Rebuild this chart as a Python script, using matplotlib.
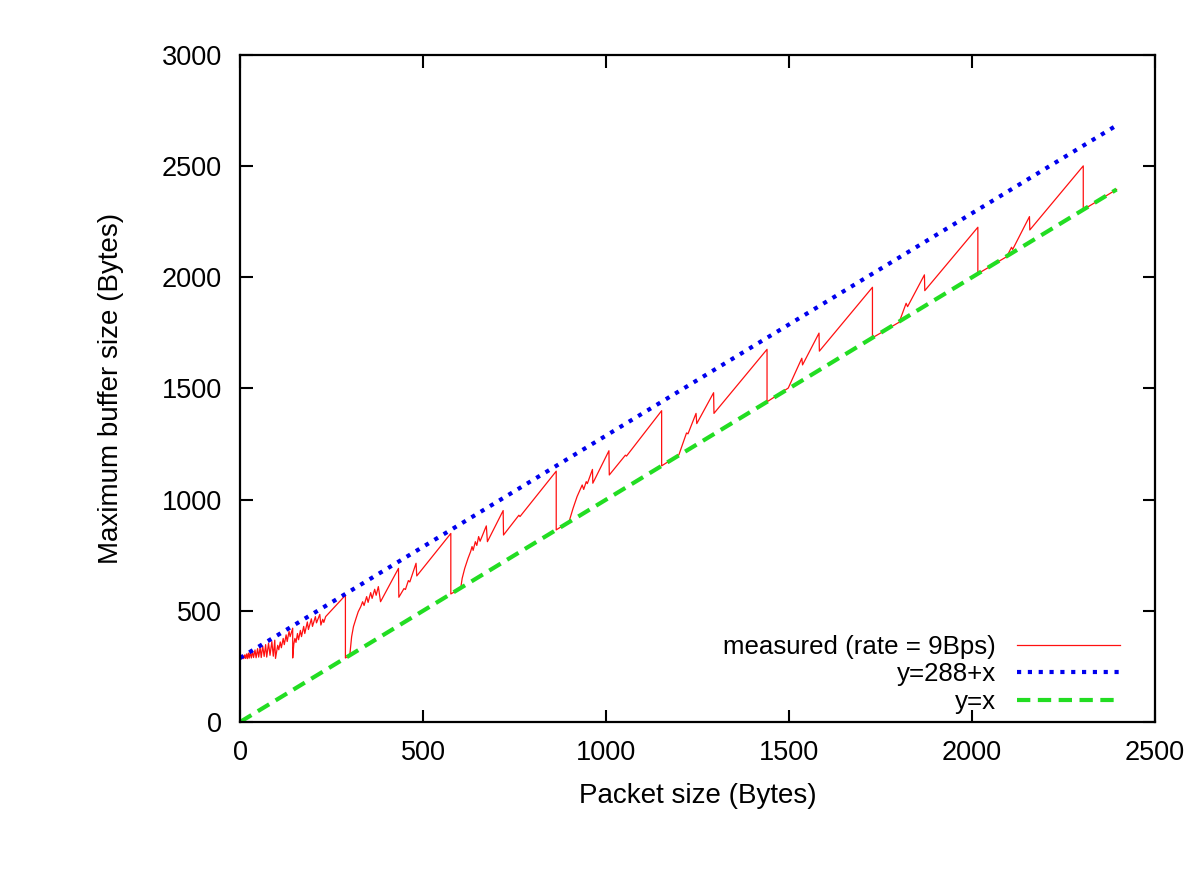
import numpy as np
import matplotlib
matplotlib.use("Agg")
import matplotlib.pyplot as plt

plt.rcParams['font.family'] = ['Liberation Sans', 'DejaVu Sans']

# measured max buffer size vs packet size
meas_x = [0, 3, 5, 8, 10, 13, 15, 18, 20, 23, 25, 28, 31, 34, 37, 41, 44, 48, 51, 55,
          58, 62, 66, 70, 73, 78, 82, 87, 91, 95, 97, 103, 106, 110, 113, 118, 121, 126,
          129, 134, 137, 144, 144, 147, 150, 153, 157, 160, 165, 168, 174, 177, 184, 187,
          195, 198, 206, 209, 218, 221, 226, 229, 234, 288, 288,
          300, 305, 310, 317, 323, 330, 335, 339, 346, 350, 357, 361, 368, 372, 378, 384,
          433, 434, 448, 452, 460, 464, 481, 483, 576, 576,
          603, 607, 614, 623, 630, 634, 637, 643, 647, 652, 656, 673, 676, 719, 720, 762,
          765, 864, 864,
          899, 910, 921, 935, 939, 946, 949, 963, 964, 1008, 1009, 1053, 1056, 1152, 1152,
          1199, 1220, 1224, 1246, 1248, 1294, 1295, 1440, 1440,
          1498, 1512, 1535, 1537, 1582, 1583, 1728, 1728,
          1801, 1820, 1824, 1870, 1871, 2016, 2016,
          2095, 2108, 2111, 2157, 2158, 2304, 2304, 2395]
meas_y = [288, 294, 284, 299, 285, 302, 286, 306, 285, 310, 287, 313, 288, 318, 290, 324,
          289, 330, 292, 336, 290, 342, 295, 348, 292, 355, 300, 362, 296, 368, 286, 345,
          325, 360, 334, 376, 348, 392, 362, 408, 384, 422, 288, 350, 376, 358, 398, 370,
          412, 384, 430, 398, 450, 416, 464, 430, 474, 446, 484, 436, 462, 448, 474, 570,
          288,
          301, 384, 429, 466, 496, 519, 541, 524, 564, 538, 582, 556, 597, 570, 609, 541,
          691, 561, 600, 596, 636, 630, 714, 657, 848, 576,
          601, 646, 691, 736, 766, 789, 772, 811, 794, 834, 813, 882, 811, 951, 841, 930,
          924, 1128, 864,
          901, 961, 1014, 1066, 1046, 1081, 1072, 1136, 1074, 1220, 1111, 1200, 1196, 1400,
          1152,
          1201, 1300, 1296, 1388, 1342, 1481, 1388, 1676, 1440,
          1502, 1553, 1636, 1606, 1749, 1668, 1955, 1728,
          1798, 1883, 1868, 2011, 1940, 2225, 2016,
          2093, 2135, 2125, 2273, 2213, 2501, 2304, 2395]

# reference lines, end points only
ref_x = [0, 2395]
upper_y = [288, 2683]
lower_y = [0, 2395]

fig = plt.figure(figsize=(12, 8.72), dpi=100)
ax = fig.add_axes([0.2, 0.172, 0.7625, 0.765])

ax.plot(meas_x, meas_y, color='#ff1010', lw=0.9, label='measured (rate = 9Bps)')
ax.plot(ref_x, upper_y, color='#0000ee', lw=3, linestyle=(0, (1, 1.6)), label='y=288+x')
ax.plot(ref_x, lower_y, color='#22dd22', lw=3, linestyle=(0, (3.2, 1.8)), label='y=x')

ax.set_xlim(0, 2500)
ax.set_ylim(0, 3000)
ax.set_xticks(np.arange(0, 2501, 500))
ax.set_yticks(np.arange(0, 3001, 500))
ax.tick_params(direction='in', length=9, width=1.5, labelsize=19.5, top=True, right=True, pad=13)
for s in ax.spines.values():
    s.set_linewidth(1.6)

ax.set_xlabel("Packet size (Bytes)", fontsize=20, labelpad=12)
ax.set_ylabel("Maximum buffer size (Bytes)", fontsize=20, labelpad=27)

ax.legend(loc='lower right', frameon=False, markerfirst=False, fontsize=18.6,
          handlelength=4.0, labelspacing=0.14, handletextpad=0.8,
          borderpad=0, borderaxespad=0, bbox_to_anchor=(0.9617, 0.012))

fig.savefig("out.png", dpi=100)
